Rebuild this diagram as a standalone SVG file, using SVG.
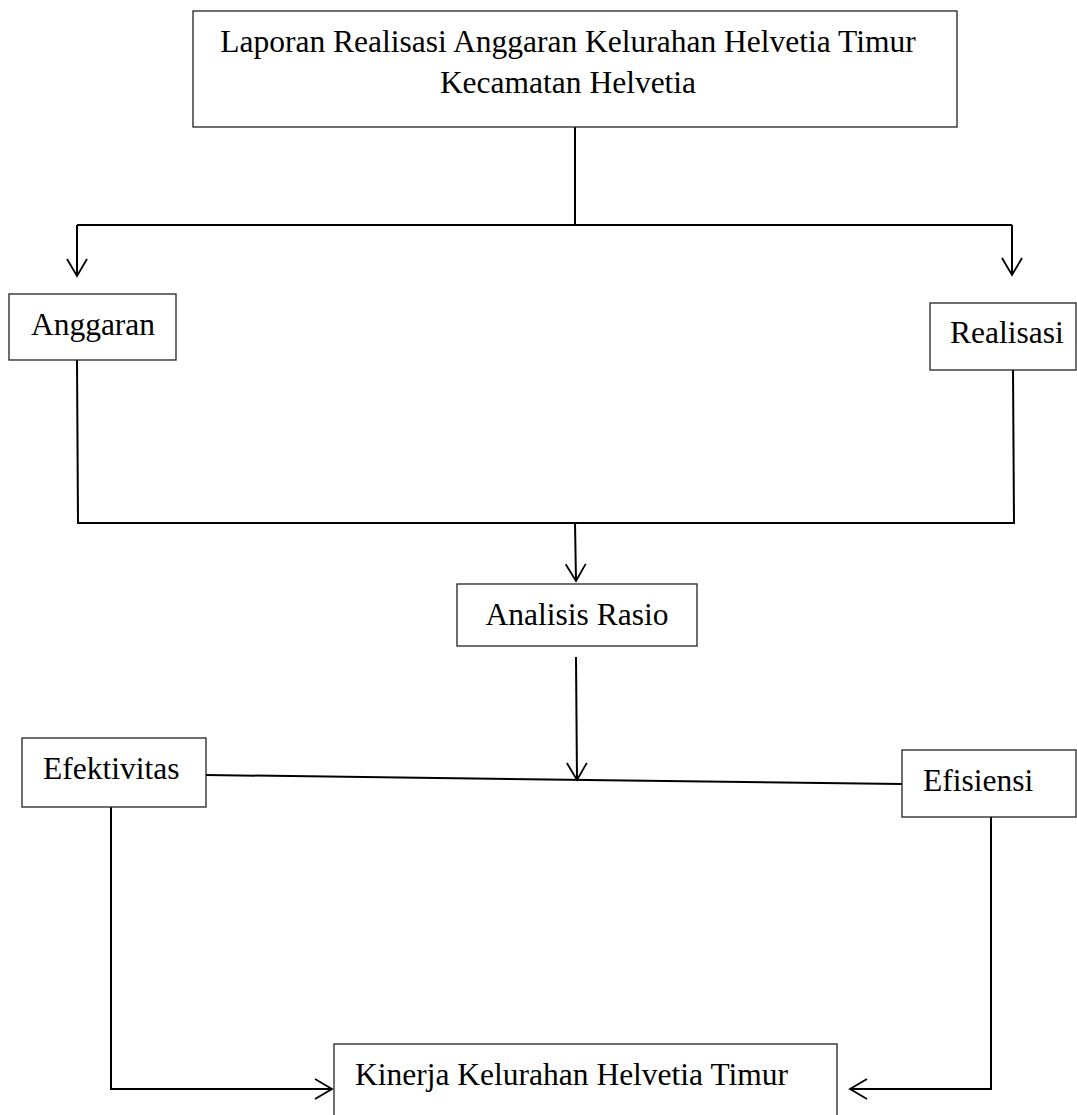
<svg xmlns="http://www.w3.org/2000/svg" width="1077" height="1115" viewBox="0 0 1077 1115">
<style>
.box{fill:#fff;stroke:#222;stroke-width:1.3}
.lbl{font-family:"Liberation Serif","Times New Roman",serif;font-size:31.5px;fill:#000}
.con{fill:none;stroke:#000;stroke-width:2}
</style>
<defs>
<marker id="arr" markerUnits="userSpaceOnUse" markerWidth="22" markerHeight="26" viewBox="-19 -13 22 26" refX="0" refY="0" orient="auto">
<path d="M-17,-10 L0,0 L-17,10" fill="none" stroke="#000" stroke-width="1.8"/>
</marker>
</defs>
<rect width="1077" height="1115" fill="#fff"/>
<g id="connectors">
<path class="con" d="M575,127 V225"/>
<path class="con" d="M77,225 H1012"/>
<path class="con" d="M77,225 V276" marker-end="url(#arr)"/>
<path class="con" d="M1012,225 V275" marker-end="url(#arr)"/>
<path class="con" d="M77,360 L78,523 H1014 L1013,370"/>
<path class="con" d="M575,523 L576,581" marker-end="url(#arr)"/>
<path class="con" d="M576,657 L577,780" marker-end="url(#arr)"/>
<path class="con" d="M206,775 L902,784"/>
<path class="con" d="M111,807 V1089 H332" marker-end="url(#arr)"/>
<path class="con" d="M991,817 V1089 H850" marker-end="url(#arr)"/>
</g>
<g id="node-laporan">
<rect class="box" x="193" y="11" width="764" height="116"/>
<text class="lbl" x="568" y="52" text-anchor="middle">Laporan Realisasi Anggaran Kelurahan Helvetia Timur</text>
<text class="lbl" x="568" y="93" text-anchor="middle">Kecamatan Helvetia</text>
</g>
<g id="node-anggaran">
<rect class="box" x="9" y="294" width="167" height="66"/>
<text class="lbl" x="93" y="335" text-anchor="middle">Anggaran</text>
</g>
<g id="node-realisasi">
<rect class="box" x="930" y="303" width="146" height="67"/>
<text class="lbl" x="950" y="343">Realisasi</text>
</g>
<g id="node-analisis">
<rect class="box" x="457" y="584" width="240" height="62"/>
<text class="lbl" x="577" y="625" text-anchor="middle">Analisis Rasio</text>
</g>
<g id="node-efektivitas">
<rect class="box" x="22" y="738" width="184" height="69"/>
<text class="lbl" x="43" y="779">Efektivitas</text>
</g>
<g id="node-efisiensi">
<rect class="box" x="902" y="750" width="174" height="67"/>
<text class="lbl" x="923" y="791">Efisiensi</text>
</g>
<g id="node-kinerja">
<rect class="box" x="334" y="1044" width="503" height="90"/>
<text class="lbl" x="355" y="1085">Kinerja Kelurahan Helvetia Timur</text>
</g>
</svg>
